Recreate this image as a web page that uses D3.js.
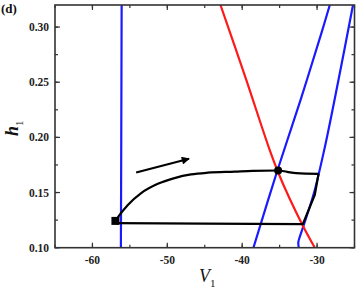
<!DOCTYPE html>
<html>
<head>
<meta charset="utf-8">
<script src="https://cdn.jsdelivr.net/npm/d3@7"></script>
<style>
  body { margin: 0; background: #fff; }
  svg text { font-family: "Liberation Serif", "Times New Roman", serif; }
</style>
</head>
<body>
<svg width="357" height="292"></svg>
<script>
//  Chart values
const xTicks = [-60, -50, -40, -30];
const yTicks = [0.10, 0.15, 0.20, 0.25, 0.30];

// blue nullcline on the left (almost vertical)
const blueLeftV = [-56.1, -56.15, -56.2];
const blueLeftH = [0.32, 0.20, 0.10];

// middle blue nullcline
const blueMidV = [-38.5, -35.3, -32.2, -29.4, -28.3];
const blueMidH = [0.10, 0.17, 0.234, 0.295, 0.32];

// right blue nullcline
const blueRightV = [-32.45, -32.5, -32.3, -31.8, -30.4, -29.0, -27.2, -25.2];
const blueRightH = [0.10, 0.105, 0.11, 0.12, 0.15, 0.19, 0.25, 0.32];

// red nullcline
const redV = [-42.9, -39.6, -36.4, -35.3, -33.7, -31.9, -30.3];
const redH = [0.32, 0.255, 0.19, 0.17, 0.145, 0.12, 0.10];

// black trajectory: upper arc, then descent and return
const arcV = [-56.9, -56.37, -55.27, -53.49, -51.27, -49.04, -46.83, -44.6, -41.0, -38.6, -35.2, -34.0, -32.8, -29.8];
const arcH = [0.1243, 0.1297, 0.1388, 0.1495, 0.1579, 0.1631, 0.1664, 0.1680, 0.1690, 0.1697, 0.1700, 0.1688, 0.1676, 0.1670];
const returnV = [-29.8, -30.3, -31.9, -45.0, -56.9];
const returnH = [0.1670, 0.148, 0.1213, 0.1218, 0.1222];

// markers
const squareV = -56.93, squareH = 0.1243;
const dotV = -35.2, dotH = 0.1700;
const arrowV = [-54.16, -47.1];
const arrowH = [0.1682, 0.1806];

const zip = (a, b) => a.map((v, i) => [v, b[i]]);

const svg = d3.select('svg');
const margin = { top: 5, right: 2.5, bottom: 44.3, left: 55 };
const width = 357, height = 292;
const innerW = width - margin.left - margin.right;
const innerH = height - margin.top - margin.bottom;

const x = d3.scaleLinear().domain([-65, -25]).range([margin.left, margin.left + innerW]);
const y = d3.scaleLinear().domain([0.10, 0.32]).range([margin.top + innerH, margin.top]);

// ======================= CURVES ===============================
const plot = svg.append('g');
plot.append('defs').append('clipPath').attr('id', 'clip')
    .append('rect').attr('x', x(-65)).attr('y', y(0.32)).attr('width', innerW).attr('height', innerH);

const smooth = d3.line().x(d => x(d[0])).y(d => y(d[1])).curve(d3.curveCatmullRom);
const smoothX = d3.line().x(d => x(d[0])).y(d => y(d[1])).curve(d3.curveMonotoneX);
const straight = d3.line().x(d => x(d[0])).y(d => y(d[1]));

const curves = plot.append('g').attr('clip-path', 'url(#clip)');
curves.append('path').attr('d', smooth(zip(blueLeftV, blueLeftH)))
    .attr('fill', 'none').attr('stroke', '#1a1aff').attr('stroke-width', 2.2);
curves.append('path').attr('d', smooth(zip(blueMidV, blueMidH)))
    .attr('fill', 'none').attr('stroke', '#1a1aff').attr('stroke-width', 2.2);
curves.append('path').attr('d', smooth(zip(blueRightV, blueRightH)))
    .attr('fill', 'none').attr('stroke', '#1a1aff').attr('stroke-width', 2.2);
curves.append('path').attr('d', smooth(zip(redV, redH)))
    .attr('fill', 'none').attr('stroke', '#ff1a1a').attr('stroke-width', 2.2);

curves.append('path').attr('d', smoothX(zip(arcV, arcH)))
    .attr('fill', 'none').attr('stroke', '#000').attr('stroke-width', 2.2);
curves.append('path').attr('d', straight(zip(returnV, returnH)))
    .attr('fill', 'none').attr('stroke', '#000').attr('stroke-width', 2.2)
    .attr('stroke-linejoin', 'round');

// square start marker and fixed point
plot.append('rect')
    .attr('x', x(squareV) - 4).attr('y', y(squareH) - 4)
    .attr('width', 8).attr('height', 8).attr('fill', '#000');
plot.append('circle')
    .attr('cx', x(dotV)).attr('cy', y(dotH)).attr('r', 4).attr('fill', '#000');

// direction arrow
const defs = svg.append('defs');
defs.append('marker').attr('id', 'head')
    .attr('viewBox', '0 0 10 10').attr('refX', 9).attr('refY', 5)
    .attr('markerWidth', 11).attr('markerHeight', 8).attr('orient', 'auto')
    .attr('markerUnits', 'userSpaceOnUse')
    .append('path').attr('d', 'M0,0 L10,5 L0,10 Z').attr('fill', '#000');
plot.append('path').attr('d', straight(zip(arrowV, arrowH)))
    .attr('stroke', '#000').attr('stroke-width', 2.2).attr('marker-end', 'url(#head)');

// ======================= AXES ===============================
const axisColor = '#333';
const minorX = d3.range(-65, -24, 5);
const minorY = d3.range(0.10, 0.3201, 0.025);

function frameTicks(g, scale, vals, len, side) {
    vals.forEach(v => {
        const p = scale(v);
        let x1, y1, x2, y2;
        if (side === 'bottom') { x1 = x2 = p; y1 = y(0.10); y2 = y1 - len; }
        if (side === 'top')    { x1 = x2 = p; y1 = y(0.32); y2 = y1 + len; }
        if (side === 'left')   { y1 = y2 = p; x1 = x(-65); x2 = x1 + len; }
        if (side === 'right')  { y1 = y2 = p; x1 = x(-25); x2 = x1 - len; }
        g.append('line').attr('x1', x1).attr('y1', y1).attr('x2', x2).attr('y2', y2)
            .attr('stroke', axisColor).attr('stroke-width', 1.2);
    });
}
const axes = svg.append('g');
['bottom', 'top'].forEach(s => {
    frameTicks(axes, x, minorX, 3, s);
    frameTicks(axes, x, xTicks, 5, s);
});
['left', 'right'].forEach(s => {
    frameTicks(axes, y, minorY, 3, s);
    frameTicks(axes, y, yTicks, 5, s);
});
axes.append('rect')
    .attr('x', x(-65)).attr('y', y(0.32)).attr('width', innerW).attr('height', innerH)
    .attr('fill', 'none').attr('stroke', axisColor).attr('stroke-width', 1.6);

axes.selectAll('.xl').data(xTicks).enter().append('text')
    .attr('x', d => x(d)).attr('y', y(0.10) + 16)
    .attr('text-anchor', 'middle').attr('font-size', 11.5).attr('font-weight', 'bold')
    .attr('fill', '#222').text(d => d);
axes.selectAll('.yl').data(yTicks).enter().append('text')
    .attr('x', x(-65) - 6).attr('y', d => y(d) + 4)
    .attr('text-anchor', 'end').attr('font-size', 11.5).attr('font-weight', 'bold')
    .attr('fill', '#222').text(d => d.toFixed(2));

// ======================= LABELS ===============================
const vLabel = svg.append('text').attr('x', 199).attr('y', 282)
    .attr('font-size', 18).attr('font-style', 'italic').attr('fill', '#111');
vLabel.append('tspan').text('V');
vLabel.append('tspan').attr('font-size', 11).attr('font-style', 'normal').attr('dy', 5).text('1');

const hLabel = svg.append('text')
    .attr('transform', 'translate(18,136) rotate(-90)')
    .attr('font-size', 18).attr('font-style', 'italic').attr('font-weight', 'bold').attr('fill', '#111');
hLabel.append('tspan').text('h');
hLabel.append('tspan').attr('font-size', 11).attr('font-style', 'normal').attr('font-weight', 'normal')
    .attr('dy', 5).text('1');

svg.append('text').attr('x', 1).attr('y', 13)
    .attr('font-size', 13).attr('font-weight', 'bold').attr('fill', '#111').text('(d)');
</script>
</body>
</html>
